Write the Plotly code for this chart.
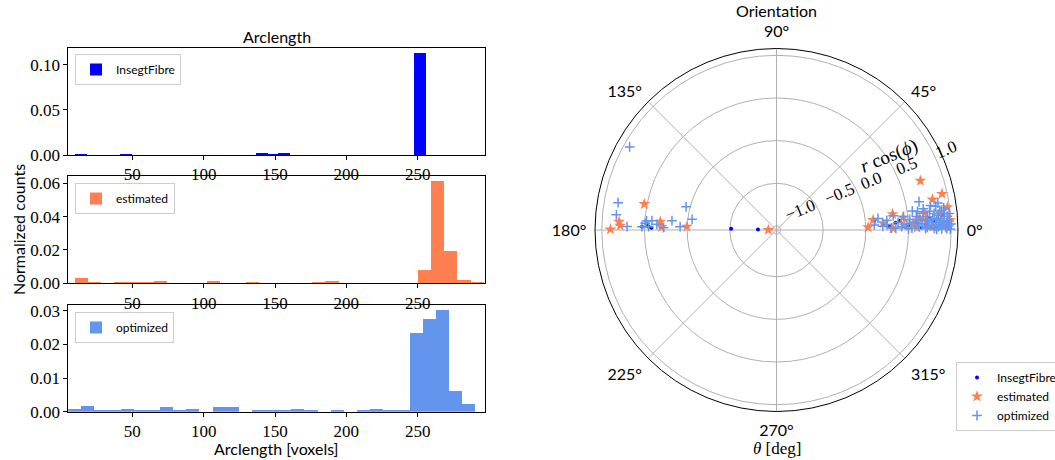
import numpy as np
import plotly.graph_objects as go

W, H = 1055, 460
SERIF = "Liberation Serif"
SANS = "Lato"

# ---------------- histogram data (normalized counts) ----------------
insegt_centers = [14.0, 45.5, 141.0, 149.3, 156.5, 251.6]
insegt_heights = [0.0012, 0.0012, 0.0022, 0.0011, 0.0022, 0.1135]
insegt_width = 8.3

est_min, est_max, est_nbins = 9.8, 296.6, 31
est_heights = [0.0032, 0.0008, 0.0, 0.0006, 0.0006, 0.0006, 0.0016, 0.0, 0.0, 0.0,
               0.0016, 0.0, 0.0, 0.0010, 0.0, 0.0, 0.0, 0.0, 0.0008, 0.0016,
               0.0, 0.0, 0.0, 0.0, 0.0, 0.0, 0.0080, 0.0614, 0.0194, 0.0022, 0.0010]

opt_min, opt_max, opt_nbins = 5.1, 290.6, 31
opt_heights = [0.0008, 0.0017, 0.0003, 0.0003, 0.0008, 0.0003, 0.0003, 0.0014, 0.0003, 0.0008,
               0.0, 0.0014, 0.0014, 0.0, 0.0003, 0.0003, 0.0003, 0.0008, 0.0003, 0.0,
               0.0003, 0.0, 0.0003, 0.0008, 0.0003, 0.0003, 0.0235, 0.0275, 0.0302, 0.0061, 0.0023]

x_tick_vals = [50, 100, 150, 200, 250]
y1_ticks = [0.0, 0.05, 0.10]
y2_ticks = [0.0, 0.02, 0.04, 0.06]
y3_ticks = [0.0, 0.01, 0.02, 0.03]

# ---------------- orientation data (polar) ----------------
insegt_r = [-0.515, -0.83, 0.53, 0.45, 0.47, 0.42, 0.40, 0.11, 0.28, 0.60, 0.70, 0.85,
            0.95, 0.75, 0.90, 0.65, 0.50, 0.35, 0.98, 0.80]
insegt_theta = [178.4, 178.5, 178.6, 178.5, 177.5, 179.0, 4.3, 5.8, 1.7, 3.0, 2.0, 1.5,
                2.5, 4.5, 5.0, 1.0, 2.2, 3.5, 1.0, 3.2]

est_r = [0.90, 0.785, 0.80, 0.532, 0.319, 0.30, 0.004, -0.951,
         0.735, 0.938, 0.815, 0.973, 0.876, 0.637, 0.325, 0.443, 0.091, 0.027, 0.204,
         0.555, 0.713, 0.986, 0.787, 0.962, 0.319, 0.60, 0.90, 0.45, 0.70, 0.85]
est_theta = [179.8, 178.4, 177.0, 168.9, 175.9, 178.5, 177.9, 179.5,
             18.9, 12.3, 11.1, 7.6, 6.0, 4.7, 7.8, 5.7, 5.9, 1.7, 3.6,
             2.8, 3.8, 3.3, 1.2, 1.1, 0.8, 1.0, 2.0, 2.0, 6.5, 3.5]

opt_r = [0.931, 0.837, 0.838, 0.705, 0.047, -0.05, 0.183, 0.083, 0.417, 0.493, 0.356,
         0.277, 0.53, 0.452, 0.48,
         0.10, 0.15, 0.20, 0.25, 0.30, 0.33, 0.38, 0.42, 0.45, 0.48, 0.52, 0.54, 0.56,
         0.58, 0.60, 0.62, 0.64, 0.656, 0.66, 0.68, 0.70, 0.71, 0.73, 0.74, 0.76, 0.77,
         0.79, 0.80, 0.81, 0.82, 0.83, 0.84, 0.85, 0.86, 0.87, 0.88, 0.89, 0.90, 0.91,
         0.92, 0.93, 0.94, 0.95, 0.96, 0.97, 0.98, 0.99, 1.00, 0.87, 0.78, 0.69, 0.93,
         0.985, 0.62, 0.72, 0.83, 0.95, 0.50, 0.35, 0.25]
opt_theta = [150.5, 170.2, 174.6, 178.7, 165.6, 172.8, 174.9, 178.0, 175.7, 177.1, 177.3,
             178.8, 178.6, 178.5, 176.0,
             3.0, 6.5, 2.0, 5.0, 1.0, 7.0, 3.5, 1.5, 6.0, 2.5, 4.5, 0.8, 8.0,
             3.0, 5.5, 1.5, 4.0, 11.2, 2.5, 6.5, 0.5, 3.5, 5.0, 1.8, 7.0, 2.8,
             4.2, 0.6, 6.0, 2.0, 3.6, 8.5, 1.2, 5.2, 2.6, 4.0, 0.4, 6.8, 1.8,
             3.2, 5.6, 0.9, 2.4, 4.6, 1.4, 3.0, 0.3, 2.0, 9.5, 9.0, 8.2, 7.5,
             5.5, 7.5, 1.0, 0.2, 0.5, 0.5, 0.8, 2.8]

radial_ticks = [-1.0, -0.5, 0.0, 0.5, 1.0]
radial_labels = ["\u22121.0", "\u22120.5", "0.0", "0.5", "1.0"]
angular_ticks = [0, 45, 90, 135, 180, 225, 270, 315]

C_INSEGT = "#0000ff"
C_EST = "#ff7f50"
C_OPT = "#6495ed"

fig = go.Figure()

def edges_to_centers(lo, hi, n):
    e = np.linspace(lo, hi, n + 1)
    return (e[:-1] + e[1:]) / 2, (hi - lo) / n

fig.add_trace(go.Bar(x=insegt_centers, y=insegt_heights, width=insegt_width,
                     marker=dict(color=C_INSEGT, line=dict(width=0)), name="InsegtFibre",
                     xaxis="x", yaxis="y", legend="legend"))
c, w = edges_to_centers(est_min, est_max, est_nbins)
fig.add_trace(go.Bar(x=c, y=est_heights, width=w,
                     marker=dict(color=C_EST, line=dict(width=0)), name="estimated",
                     xaxis="x2", yaxis="y2", legend="legend2"))
c, w = edges_to_centers(opt_min, opt_max, opt_nbins)
fig.add_trace(go.Bar(x=c, y=opt_heights, width=w,
                     marker=dict(color=C_OPT, line=dict(width=0)), name="optimized",
                     xaxis="x3", yaxis="y3", legend="legend3"))

fig.add_trace(go.Scatterpolar(r=insegt_r, theta=insegt_theta, mode="markers", name="InsegtFibre",
                              marker=dict(color=C_INSEGT, size=4, symbol="circle", line=dict(width=0)),
                              subplot="polar", legend="legend4"))
fig.add_trace(go.Scatterpolar(r=est_r, theta=est_theta, mode="markers", name="estimated",
                              marker=dict(color=C_EST, size=9, symbol="star", line=dict(width=0)),
                              subplot="polar", legend="legend4"))
fig.add_trace(go.Scatterpolar(r=opt_r, theta=opt_theta, mode="markers", name="optimized",
                              marker=dict(color=C_OPT, size=7, symbol="cross-thin",
                                          line=dict(width=1.5, color=C_OPT)),
                              subplot="polar", legend="legend4"))

def px_x(p):
    return p / W

def px_y(p):
    return 1 - p / H

xdom = [px_x(68.3), px_x(485)]
ydoms = [[px_y(155), px_y(47.7)], [px_y(283.3), px_y(176)], [px_y(411.7), px_y(305)]]
yranges = [[0, 0.1192], [0, 0.0644], [0, 0.0317]]
yticks = [y1_ticks, y2_ticks, y3_ticks]

axis_common = dict(showline=True, mirror=True, linecolor="black", linewidth=1,
                   ticks="outside", ticklen=4, tickcolor="black", showgrid=False,
                   zeroline=False, tickfont=dict(family=SERIF, size=17, color="black"))
layout = {}
for i in range(3):
    sx = "" if i == 0 else str(i + 1)
    layout["xaxis" + sx] = dict(domain=xdom, range=[5.1, 297.2], tickvals=x_tick_vals,
                                anchor="y" + sx, **axis_common)
    layout["yaxis" + sx] = dict(domain=ydoms[i], range=yranges[i], tickvals=yticks[i],
                                ticktext=["%.2f" % v for v in yticks[i]],
                                anchor="x" + sx, **axis_common)

legend_common = dict(bgcolor="rgba(255,255,255,0.8)", bordercolor="#cccccc", borderwidth=1,
                     font=dict(family=SANS, size=12, color="black"),
                     xanchor="left", yanchor="top", itemwidth=30, tracegroupgap=0)
layout["legend"] = dict(x=px_x(75), y=px_y(54), **legend_common)
layout["legend2"] = dict(x=px_x(75), y=px_y(183), **legend_common)
layout["legend3"] = dict(x=px_x(75), y=px_y(312), **legend_common)
layout["legend4"] = dict(x=px_x(956), y=px_y(362), **legend_common)

# matplotlib puts the radial labels to the right of the tick point; pad with figure spaces
label_pad = [6, 6, 4, 3, 3]
radial_text = ["\u2007" * p + t for p, t in zip(label_pad, radial_labels)]

layout["polar"] = dict(
    domain=dict(x=[px_x(595), px_x(958)], y=[px_y(411.5), px_y(48.5)]),
    bgcolor="white",
    radialaxis=dict(range=[-1.047, 1.08], tickvals=radial_ticks, ticktext=radial_text,
                    angle=22.5, tickangle=0, side="counterclockwise",
                    showline=False, ticks="", gridcolor="#b0b0b0", gridwidth=0.8,
                    tickfont=dict(family=SERIF, size=17, color="black")),
    angularaxis=dict(rotation=0, direction="counterclockwise", tickvals=angular_ticks,
                     ticktext=["%d\u00b0" % a for a in angular_ticks],
                     showline=True, linecolor="black", linewidth=1,
                     ticks="outside", ticklen=5, tickcolor="rgba(0,0,0,0)",
                     gridcolor="#b0b0b0", gridwidth=0.8,
                     tickfont=dict(family=SANS, size=16, color="black")),
)

annotations = [
    dict(text="Arclength", x=px_x(276.5), y=px_y(37), font=dict(family=SANS, size=16)),
    dict(text="Arclength [voxels]", x=px_x(276.5), y=px_y(448), font=dict(family=SANS, size=16)),
    dict(text="Normalized counts", x=px_x(18), y=px_y(230), textangle=-90,
         font=dict(family=SANS, size=16)),
    dict(text="Orientation", x=px_x(776.5), y=px_y(11), font=dict(family=SANS, size=16)),
    dict(text="<i>\u03b8</i> [deg]", x=px_x(776.5), y=px_y(448), font=dict(family=SERIF, size=17)),
    dict(text="<i>r</i> cos(<i>\u03d5</i>)", x=px_x(889), y=px_y(156), textangle=-22.5,
         font=dict(family=SERIF, size=19)),
]
for a in annotations:
    a.update(xref="paper", yref="paper", showarrow=False, xanchor="center", yanchor="middle")
    a["font"]["color"] = "black"

fig.update_layout(width=W, height=H, margin=dict(l=0, r=0, t=0, b=0, pad=0, autoexpand=False),
                  showlegend=True,
                  paper_bgcolor="white", plot_bgcolor="white", bargap=0,
                  annotations=annotations, **layout)

fig.write_html("out.html")
